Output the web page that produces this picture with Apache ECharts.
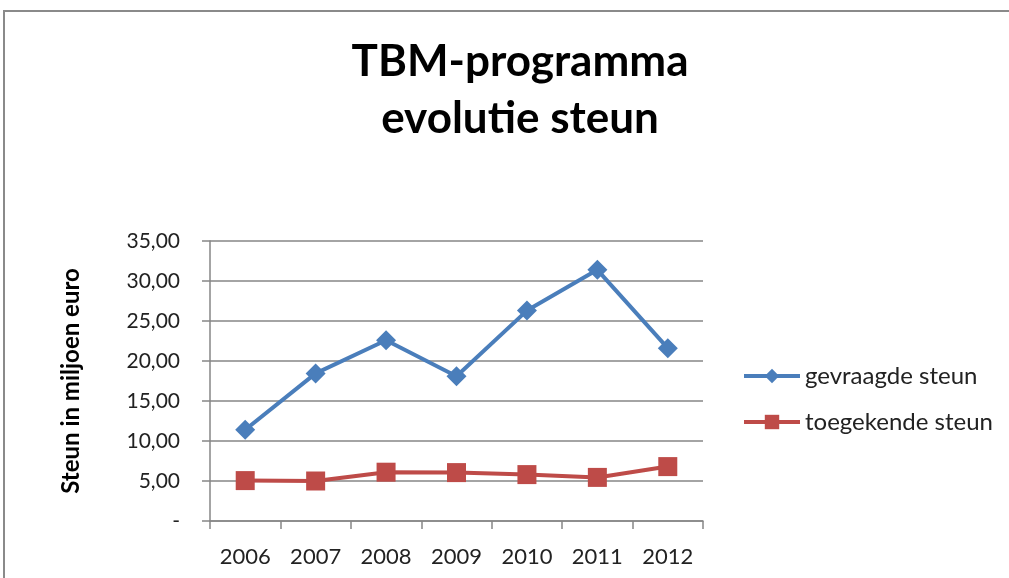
<!DOCTYPE html>
<html>
<head>
<meta charset="utf-8">
<script src="https://cdn.jsdelivr.net/npm/echarts@6/dist/echarts.min.js"></script>
<style>
  html, body { margin: 0; padding: 0; background: #fff; }
  #chart { width: 1009px; height: 578px; }
</style>
</head>
<body>
<div id="chart"></div>
<script>
const years = ['2006', '2007', '2008', '2009', '2010', '2011', '2012']
const gevraagd = [11.4, 18.45, 22.6, 18.1, 26.3, 31.4, 21.6]
const toegekend = [5.05, 5.0, 6.1, 6.05, 5.8, 5.45, 6.8]

const font = 'Lato, "Open Sans", sans-serif'
const gray = '#868686'

const chart = echarts.init(document.getElementById('chart'), null, { renderer: 'canvas' })

const option = {
  backgroundColor: '#fff',
  animation: false,
  title: {
    text: 'TBM-programma\nevolutie steun',
    left: 515,
    top: 28,
    textAlign: 'center',
    textStyle: {
      fontFamily: font,
      fontWeight: 'bold',
      fontSize: 44,
      lineHeight: 57,
      color: '#000'
    }
  },
  graphic: [
    {
      type: 'polyline',
      shape: { points: [[4, 578], [4, 11], [1009, 11]] },
      style: { stroke: '#8a8a8a', lineWidth: 2, fill: null },
      silent: true
    }
  ],
  legend: {
    orient: 'vertical',
    left: 737,
    top: 359,
    itemWidth: 56,
    itemHeight: 18,
    itemGap: 22,
    lineStyle: { width: 4 },
    textStyle: { fontFamily: font, fontSize: 24, color: '#222' },
    data: ['gevraagde steun', 'toegekende steun']
  },
  grid: { left: 210, top: 241, right: 306, bottom: 57 },
  xAxis: {
    type: 'category',
    data: years,
    boundaryGap: true,
    axisLine: { lineStyle: { color: gray, width: 1.5 } },
    axisTick: { show: true, length: 8, lineStyle: { color: gray, width: 1.5 } },
    axisLabel: { margin: 25, fontFamily: font, fontSize: 22, color: '#222' },
    splitLine: { show: false }
  },
  yAxis: {
    type: 'value',
    min: 0,
    max: 35,
    interval: 5,
    name: 'Steun in miljoen euro',
    nameLocation: 'middle',
    nameGap: 127,
    nameTextStyle: { fontFamily: font, fontWeight: 'bold', fontSize: 24, color: '#000' },
    axisLine: { show: true, lineStyle: { color: gray, width: 1.5 } },
    axisTick: { show: true, length: 8, lineStyle: { color: gray, width: 1.5 } },
    axisLabel: {
      margin: 30,
      fontFamily: font,
      fontSize: 21,
      color: '#222',
      formatter: v => v === 0 ? '-' : v.toFixed(2).replace('.', ',')
    },
    splitLine: { show: true, lineStyle: { color: gray, width: 1.5 } }
  },
  series: [
    {
      name: 'gevraagde steun',
      type: 'line',
      data: gevraagd,
      color: '#4a7ebb',
      symbol: 'diamond',
      symbolSize: 20,
      lineStyle: { width: 4 },
      itemStyle: { color: '#4a7ebb' }
    },
    {
      name: 'toegekende steun',
      type: 'line',
      data: toegekend,
      color: '#be4b48',
      symbol: 'rect',
      symbolSize: 19,
      lineStyle: { width: 4 },
      itemStyle: { color: '#be4b48' }
    }
  ]
}

chart.setOption(option)
window.addEventListener('resize', chart.resize)
</script>
</body>
</html>
